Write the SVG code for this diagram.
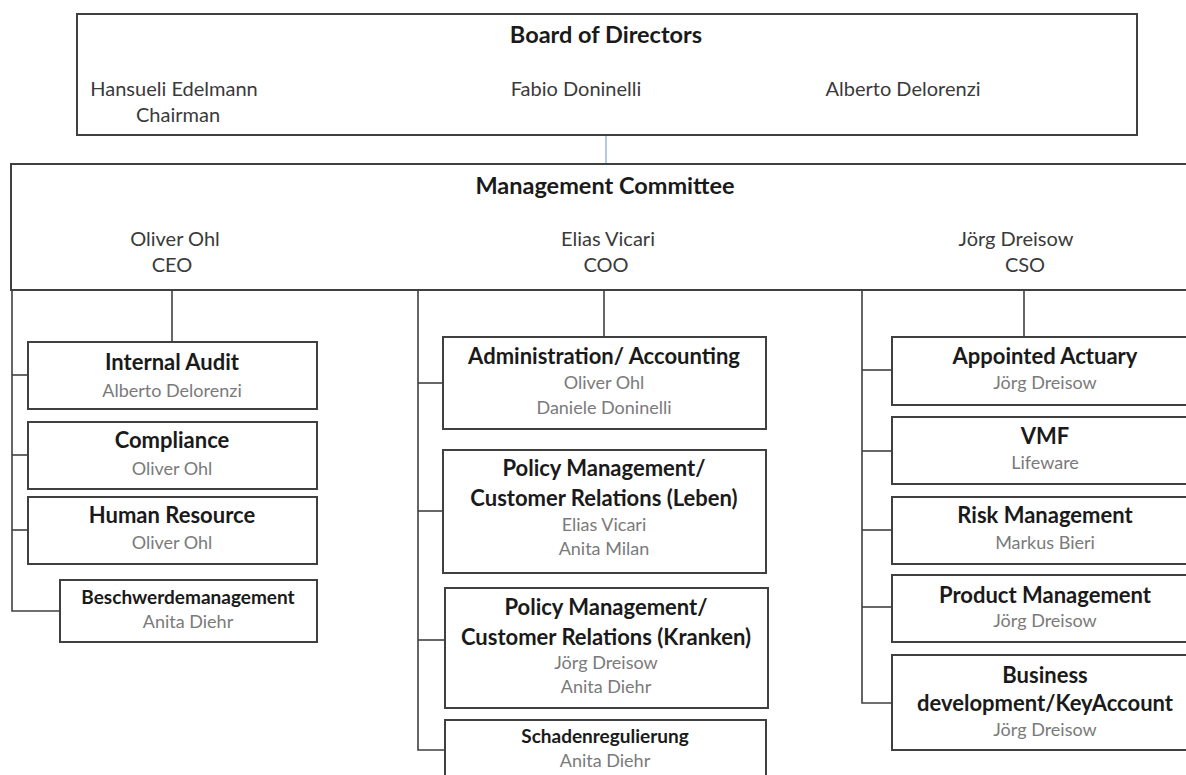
<svg xmlns="http://www.w3.org/2000/svg" width="1186" height="775" viewBox="0 0 1186 775">
<style>
.box{fill:#fff;stroke:#404040;stroke-width:2}
.ln{fill:none;stroke:#404040;stroke-width:1.6}
.blue{fill:none;stroke:#7fa6cf;stroke-width:1.2}
text{font-family:Lato,"Liberation Sans",sans-serif;text-anchor:middle}
.hd{font-weight:bold;font-size:23.5px;fill:#1a1a1a}
.bn{font-size:20px;fill:#3a3a3a}
.t{font-weight:bold;font-size:22px;fill:#1a1a1a}
.ts{font-weight:bold;font-size:19px;fill:#1a1a1a}
.n{font-size:18px;fill:#7a7a7a}
</style>
<rect width="1186" height="775" fill="#fff"/>
<g id="connectors">
<line class="blue" x1="606" y1="135" x2="606" y2="164"/>
<polyline class="ln" points="12,290 12,611 60,611"/>
<line class="ln" x1="12" y1="375" x2="28" y2="375"/>
<line class="ln" x1="12" y1="455" x2="28" y2="455"/>
<line class="ln" x1="12" y1="530" x2="28" y2="530"/>
<line class="ln" x1="172" y1="290" x2="172" y2="342"/>
<polyline class="ln" points="418,290 418,750 445,750"/>
<line class="ln" x1="418" y1="383" x2="443" y2="383"/>
<line class="ln" x1="418" y1="511" x2="443" y2="511"/>
<line class="ln" x1="418" y1="640" x2="445" y2="640"/>
<line class="ln" x1="604" y1="290" x2="604" y2="337"/>
<polyline class="ln" points="862,290 862,703 892,703"/>
<line class="ln" x1="862" y1="370" x2="892" y2="370"/>
<line class="ln" x1="862" y1="451" x2="892" y2="451"/>
<line class="ln" x1="862" y1="530" x2="892" y2="530"/>
<line class="ln" x1="862" y1="607" x2="892" y2="607"/>
<line class="ln" x1="1024" y1="290" x2="1024" y2="337"/>
</g>
<g id="board">
<rect class="box" x="77" y="14" width="1060" height="121"/>
<text class="hd" x="606" y="43">Board of Directors</text>
<text class="bn" x="174" y="96">Hansueli Edelmann</text>
<text class="bn" x="178" y="122">Chairman</text>
<text class="bn" x="576" y="96">Fabio Doninelli</text>
<text class="bn" x="903" y="96">Alberto Delorenzi</text>
</g>
<g id="management">
<rect class="box" x="11" y="164" width="1190" height="126"/>
<text class="hd" x="605" y="194">Management Committee</text>
<text class="bn" x="175" y="246">Oliver Ohl</text>
<text class="bn" x="172" y="272">CEO</text>
<text class="bn" x="608" y="246">Elias Vicari</text>
<text class="bn" x="606" y="272">COO</text>
<text class="bn" x="1016" y="246">Jörg Dreisow</text>
<text class="bn" x="1025" y="272">CSO</text>
</g>
<g id="internal-audit">
<rect class="box" x="28" y="342" width="289" height="67"/>
<text class="t" x="172" y="370">Internal Audit</text>
<text class="n" x="172" y="397">Alberto Delorenzi</text>
</g>
<g id="compliance">
<rect class="box" x="28" y="422" width="289" height="67"/>
<text class="t" x="172" y="448">Compliance</text>
<text class="n" x="172" y="475">Oliver Ohl</text>
</g>
<g id="human-resource">
<rect class="box" x="28" y="497" width="289" height="67"/>
<text class="t" x="172" y="523">Human Resource</text>
<text class="n" x="172" y="549">Oliver Ohl</text>
</g>
<g id="beschwerde">
<rect class="box" x="60" y="580" width="257" height="62"/>
<text class="ts" x="188" y="604">Beschwerdemanagement</text>
<text class="n" x="188" y="628">Anita Diehr</text>
</g>
<g id="administration">
<rect class="box" x="443" y="337" width="323" height="92"/>
<text class="t" x="604" y="364">Administration/ Accounting</text>
<text class="n" x="604" y="389">Oliver Ohl</text>
<text class="n" x="604" y="414">Daniele Doninelli</text>
</g>
<g id="policy-leben">
<rect class="box" x="443" y="450" width="323" height="123"/>
<text class="t" x="604" y="476">Policy Management/</text>
<text class="t" x="604" y="506">Customer Relations (Leben)</text>
<text class="n" x="604" y="531">Elias Vicari</text>
<text class="n" x="604" y="555">Anita Milan</text>
</g>
<g id="policy-kranken">
<rect class="box" x="445" y="588" width="323" height="120"/>
<text class="t" x="606" y="615">Policy Management/</text>
<text class="t" x="606" y="645">Customer Relations (Kranken)</text>
<text class="n" x="606" y="669">Jörg Dreisow</text>
<text class="n" x="606" y="693">Anita Diehr</text>
</g>
<g id="schaden">
<rect class="box" x="445" y="720" width="321" height="70"/>
<text class="ts" x="605" y="743">Schadenregulierung</text>
<text class="n" x="605" y="767">Anita Diehr</text>
</g>
<g id="appointed-actuary">
<rect class="box" x="892" y="337" width="310" height="68"/>
<text class="t" x="1045" y="364">Appointed Actuary</text>
<text class="n" x="1045" y="389">Jörg Dreisow</text>
</g>
<g id="vmf">
<rect class="box" x="892" y="417" width="310" height="67"/>
<text class="t" x="1045" y="444">VMF</text>
<text class="n" x="1045" y="469">Lifeware</text>
</g>
<g id="risk">
<rect class="box" x="892" y="497" width="310" height="67"/>
<text class="t" x="1045" y="523">Risk Management</text>
<text class="n" x="1045" y="549">Markus Bieri</text>
</g>
<g id="product">
<rect class="box" x="892" y="575" width="310" height="67"/>
<text class="t" x="1045" y="603">Product Management</text>
<text class="n" x="1045" y="627">Jörg Dreisow</text>
</g>
<g id="business">
<rect class="box" x="892" y="655" width="310" height="95"/>
<text class="t" x="1045" y="683">Business</text>
<text class="t" x="1045" y="711">development/KeyAccount</text>
<text class="n" x="1045" y="736">Jörg Dreisow</text>
</g>
</svg>
